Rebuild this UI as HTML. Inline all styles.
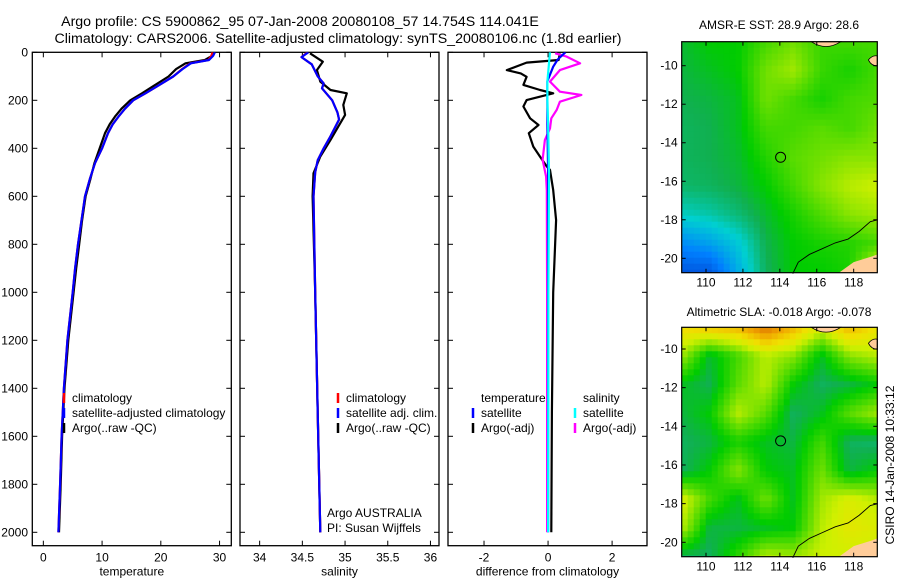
<!DOCTYPE html>
<html><head><meta charset="utf-8"><style>
body{margin:0;background:#fff}
svg{display:block;font-family:"Liberation Sans",sans-serif}
</style></head><body>
<svg id="fig" width="900" height="580" viewBox="0 0 900 580">
<rect width="900" height="580" fill="#fff"/>
<text x="300" y="26" font-size="14.2" text-anchor="middle">Argo profile: CS 5900862_95 07-Jan-2008 20080108_57 14.754S 114.041E</text>
<text x="338" y="43" font-size="14.2" text-anchor="middle">Climatology: CARS2006. Satellite-adjusted climatology: synTS_20080106.nc (1.8d earlier)</text>
<text x="779" y="29" font-size="12" text-anchor="middle">AMSR-E SST: 28.9 Argo: 28.6</text>
<text x="779" y="316" font-size="12" text-anchor="middle">Altimetric SLA: -0.018 Argo: -0.078</text>
<text transform="translate(894,465) rotate(-90)" font-size="12" text-anchor="middle">CSIRO 14-Jan-2008 10:33:12</text>
<g id="plots"></g>
</svg>
<script>
// ---- profile data ----
const tDepth = [0,15,32,46,70,101,143,171,200,235,268,300,337,400,462,530,600,700,800,900,1000,1200,1400,1600,1800,2000];
const climTemp = [28.8,28.6,28.1,25.0,23.6,22.1,19.3,17.4,15.3,13.9,12.8,11.8,11.0,10.0,8.8,7.9,7.1,6.5,5.9,5.4,5.0,4.1,3.5,3.1,2.85,2.56];
const satTemp  = [29.2,28.9,28.2,25.1,23.7,22.1,19.3,17.4,15.3,13.9,12.8,11.8,11.0,10.0,8.8,7.9,7.1,6.5,5.9,5.4,5.0,4.1,3.5,3.1,2.85,2.56];
const argoTemp = [28.9,28.7,27.5,24.2,22.6,21.3,18.6,16.8,14.8,13.3,12.2,11.3,10.5,9.6,8.7,8.0,7.2,6.6,6.1,5.6,5.15,4.25,3.6,3.2,2.95,2.66];
const sDepth = [0,20,50,100,130,150,200,250,280,350,400,450,500,600,1000,1500,2000];
const climSal = [34.56,34.49,34.61,34.68,34.75,34.73,34.85,34.91,34.93,34.83,34.75,34.68,34.65,34.63,34.65,34.68,34.71];
const satSal  = [34.57,34.49,34.61,34.68,34.75,34.73,34.85,34.91,34.93,34.83,34.75,34.68,34.65,34.63,34.65,34.68,34.71];
const aDepth = [4,39,74,122,157,171,219,261,365,434,504,600,1000,1500,2000];
const argoSal = [34.59,34.74,34.67,34.71,34.83,35.02,34.98,35.0,34.83,34.71,34.63,34.62,34.65,34.68,34.71];
const dDepthT = [4,32,43,74,88,102,136,157,171,199,226,275,303,337,393,435,476,490,574,699,1000,1500,2000];
const diffTempArgo = [0.37,0.33,-0.67,-1.29,-0.85,-0.67,-0.77,-0.25,0.16,-0.67,-0.77,-0.56,-0.3,-0.6,-0.46,-0.25,-0.04,0.06,0.16,0.25,0.16,0.12,0.1];
const dDepthS = [4,18,46,74,122,164,178,206,240,275,317,365,448,518,574,1000,2000];
const diffSalArgo = [0.22,0.58,1.0,0.37,0.06,0.37,1.04,0.37,0.27,0.1,0.06,-0.1,-0.17,-0.06,-0.04,-0.03,-0.03];
const dDepthSat = [0,30,60,120,200,300,500,1000,2000];
const diffTempSat = [0.54,0.3,0.16,-0.02,-0.02,-0.02,0.0,0.0,0.0];
const diffSalSat = [0.06,0.04,0.02,-0.02,-0.02,0.0,0.03,0.01,0.0];
// ---- map fields (rows north->south, cols west->east) ----
const sstField = [
[.47,.5,.5,.56,.6,.55,.56,.56],[.46,.48,.5,.6,.64,.55,.52,.56],[.45,.46,.48,.6,.56,.52,.56,.57],
[.44,.45,.48,.56,.56,.58,.56,.6],[.44,.45,.47,.53,.58,.6,.62,.62],[.43,.44,.46,.5,.56,.62,.66,.68],
[.36,.38,.42,.47,.52,.57,.62,.64],[.22,.26,.33,.45,.5,.52,.53,.56],[.1,.1,.28,.44,.5,.5,.52,.72]];
const slaField = [
[.76,.8,.82,.92,.82,.7,.82,.74],[.64,.47,.56,.66,.62,.48,.62,.66],[.48,.45,.58,.66,.5,.44,.46,.5],
[.46,.5,.66,.58,.44,.48,.58,.64],[.44,.46,.52,.48,.46,.56,.44,.43],[.44,.5,.62,.5,.48,.6,.46,.5],
[.7,.56,.48,.6,.48,.64,.7,.66],[.66,.46,.46,.48,.5,.66,.72,.7],[.44,.44,.54,.66,.64,.68,.68,.68]];
const argoLon = 114.041, argoLat = -14.754;
const depthTicks = [0,200,400,600,800,1000,1200,1400,1600,1800,2000];
const tempTicks = [0,10,20,30], salTicks = [34,34.5,35,35.5,36], diffTicks = [-2,0,2];
const lonTicks = [110,112,114,116,118], latTicks = [-10,-12,-14,-16,-18,-20];

const NS='http://www.w3.org/2000/svg';
const root=document.getElementById('plots');
function mk(tag,attrs,parent){const e=document.createElementNS(NS,tag);for(const k in attrs)e.setAttribute(k,attrs[k]);(parent||root).appendChild(e);return e;}
function txt(s,x,y,anchor,size,parent){const t=mk('text',{x:x,y:y,'text-anchor':anchor||'start','font-size':size||12},parent);t.textContent=s;return t;}

const TOP=52.3, BOT=545.7;
const yD = d => TOP + d*0.24;
function panel(name,x0,x1,v0,v1,ticks,label,showY){
  const g=mk('g',{});
  
  
  const xs = v => x0 + (v-v0)/(v1-v0)*(x1-x0);
  mk('rect',{x:x0,y:TOP,width:x1-x0,height:BOT-TOP,fill:'#fff',stroke:'#000','stroke-width':1.3},g);
  ticks.forEach(v=>{const x=xs(v);mk('line',{x1:x,x2:x,y1:BOT,y2:BOT-5,stroke:'#000'},g);mk('line',{x1:x,x2:x,y1:TOP,y2:TOP+5,stroke:'#000'},g);
    const t=txt(String(v),x,BOT+16,'middle',12,g);});
  depthTicks.forEach(d=>{const y=yD(d);mk('line',{x1:x0,x2:x0+5,y1:y,y2:y,stroke:'#000'},g);mk('line',{x1:x1,x2:x1-5,y1:y,y2:y,stroke:'#000'},g);
    if(showY){const t=txt(String(d),28,y+4,'end',12,g);}});
  const l=txt(label,(x0+x1)/2,BOT+30,'middle',12,g);
  
  
  const cid='clip'+name;const cp=mk('clipPath',{id:cid},g);mk('rect',{x:x0,y:TOP,width:x1-x0,height:BOT-TOP},cp);
  const inner=mk('g',{'clip-path':'url(#'+cid+')'},g);
  return {g,xs,inner};
}
function line(p,vals,depths,color,w,name){
  const pts=vals.map((v,i)=>p.xs(v).toFixed(1)+','+yD(depths[i]).toFixed(1)).join(' ');
  const pl=mk('polyline',{points:pts,fill:'none',stroke:color,'stroke-width':w,'stroke-linejoin':'round'},p.inner);
  
  
}
function legend(g,x,y,color,label){
  mk('line',{x1:x,x2:x,y1:y-9,y2:y+1,stroke:color,'stroke-width':2.5},g);
  const t=txt(label,x+8,y,'start',12,g);
  
  
}
// panel 1
const p1=panel('temperature-panel',32.3,231.3,-1.88,32,tempTicks,'temperature',true);
line(p1,argoTemp,tDepth,'#000',2.2,'argo-temperature-line');
line(p1,climTemp,tDepth,'#f00',2.2,'climatology-temperature-line');
line(p1,satTemp,tDepth,'#00f',2.2,'satellite-temperature-line');
legend(p1.inner,64,402,'#f00','climatology');legend(p1.inner,64,417,'#00f','satellite-adjusted climatology');legend(p1.inner,64,432,'#000','Argo(..raw -QC)');
// panel 2
const p2=panel('salinity-panel',240,439,33.77,36.1,salTicks,'salinity',false);
line(p2,argoSal,aDepth,'#000',2.2,'argo-salinity-line');
line(p2,climSal,sDepth,'#f00',2.2,'climatology-salinity-line');
line(p2,satSal,sDepth,'#00f',2.2,'satellite-salinity-line');
legend(p2.inner,338,402,'#f00','climatology');legend(p2.inner,338,417,'#00f','satellite adj. clim.');legend(p2.inner,338,432,'#000','Argo(..raw -QC)');
txt('Argo AUSTRALIA',327,517,'start',12,p2.inner);
txt('PI: Susan Wijffels',327,532,'start',12,p2.inner);
// panel 3
const p3=panel('difference-panel',448,647,-3.125,3.09,diffTicks,'difference from climatology',false);
line(p3,diffTempArgo,dDepthT,'#000',2.2,'argo-temperature-difference');
line(p3,diffSalArgo,dDepthS,'#f0f',2.2,'argo-salinity-difference');
line(p3,diffTempSat,dDepthSat,'#00f',2.2,'satellite-temperature-difference');
line(p3,diffSalSat,dDepthSat,'#0ff',2.2,'satellite-salinity-difference');
txt('temperature',481,402,'start',12,p3.inner);txt('salinity',583,402,'start',12,p3.inner);
legend(p3.inner,473,417,'#00f','satellite');legend(p3.inner,473,432,'#000','Argo(-adj)');
legend(p3.inner,575,417,'#0ff','satellite');legend(p3.inner,575,432,'#f0f','Argo(-adj)');

// ---- maps ----
const cstops=[[0,[0,48,192]],[0.2,[0,128,255]],[0.35,[0,208,208]],[0.45,[16,176,80]],[0.5,[0,204,0]],[0.6,[112,224,0]],[0.68,[208,240,0]],[0.75,[240,224,0]],[0.85,[240,160,0]],[1,[192,64,0]]];
function cmap(v){v=Math.max(0,Math.min(1,v));for(let i=1;i<cstops.length;i++){if(v<=cstops[i][0]){const a=cstops[i-1],b=cstops[i],f=(v-a[0])/(b[0]-a[0]);return 'rgb('+a[1].map((c,k)=>Math.round(c+(b[1][k]-c)*f)).join(',')+')';}}return 'rgb(192,64,0)';}
function mapPanel(name,field,x0,y0,x1,y1,lat10y,lat20y){
  const g=mk('g',{});
  
  
  const lonX = lon => 706 + (lon-110)*18.46;
  const latY = lat => lat10y + (-10-lat)*(lat20y-lat10y)/10;
  const latT=-10-(y0-lat10y)/((lat20y-lat10y)/10);
  const R=field.length,C=field[0].length,cell=6;
  for(let y=y0;y<y1;y+=cell){for(let x=x0;x<x1;x+=cell){
    const fx=(x+cell/2-x0)/(x1-x0)*(C-1), fy=(y+cell/2-y0)/(y1-y0)*(R-1);
    const i=Math.min(R-2,Math.floor(fy)),j=Math.min(C-2,Math.floor(fx)),a=fy-i,b=fx-j;
    const v=field[i][j]*(1-a)*(1-b)+field[i][j+1]*(1-a)*b+field[i+1][j]*a*(1-b)+field[i+1][j+1]*a*b;
    mk('rect',{x:x,y:y,width:Math.min(cell,x1-x)+0.3,height:Math.min(cell,y1-y)+0.3,fill:cmap(v)},g);}}
  mk('path',{d:`M${lonX(115.7)},${y0} Q${lonX(116.5)},${latY(latT-0.5)} ${lonX(117.3)},${y0} Z`,fill:'#ffcc99',stroke:'#000','stroke-width':0.8},g);
  mk('path',{d:`M${lonX(118.8)},${latY(-9.7)} q4,-5 ${x1-lonX(118.8)},-4 v10 q-6,0 ${lonX(118.8)-x1},-6 Z`,fill:'#ffcc99',stroke:'#000','stroke-width':0.8},g);
  mk('path',{d:`M${lonX(117.2)},${y1} L${lonX(118)},${latY(-20.2)} L${lonX(119)},${latY(-19.9)} L${x1},${latY(-19.8)} L${x1},${y1} Z`,fill:'#ffcc99'},g);
  const coast=[[114.7,-20.8],[115,-20.2],[115.6,-19.8],[116.3,-19.5],[117,-19.2],[117.7,-19.0],[118.3,-18.6],[118.9,-18.1],[119.3,-18.0]];
  mk('polyline',{points:coast.map(p=>lonX(p[0])+','+latY(p[1])).join(' '),fill:'none',stroke:'#000','stroke-width':0.9},g);
  const c=mk('circle',{cx:lonX(argoLon),cy:latY(argoLat),r:5,fill:'none',stroke:'#000','stroke-width':1},g);
  
  
  mk('rect',{x:x0,y:y0,width:x1-x0,height:y1-y0,fill:'none',stroke:'#000','stroke-width':1.2},g);
  lonTicks.forEach(l=>{const x=lonX(l);mk('line',{x1:x,x2:x,y1:y1,y2:y1-4,stroke:'#000'},g);mk('line',{x1:x,x2:x,y1:y0,y2:y0+4,stroke:'#000'},g);txt(String(l),x,y1+14,'middle',12,g);});
  latTicks.forEach(l=>{const y=latY(l);mk('line',{x1:x0,x2:x0+4,y1:y,y2:y,stroke:'#000'},g);mk('line',{x1:x1,x2:x1-4,y1:y,y2:y,stroke:'#000'},g);txt(String(l),x0-4,y+4,'end',12,g);});
}
mapPanel('sst-map',sstField,681.7,41.7,877.3,272.7,65.7,258.3);
mapPanel('sla-map',slaField,681.7,327.3,877.3,556.7,349,542.3);
</script>
</body></html>
